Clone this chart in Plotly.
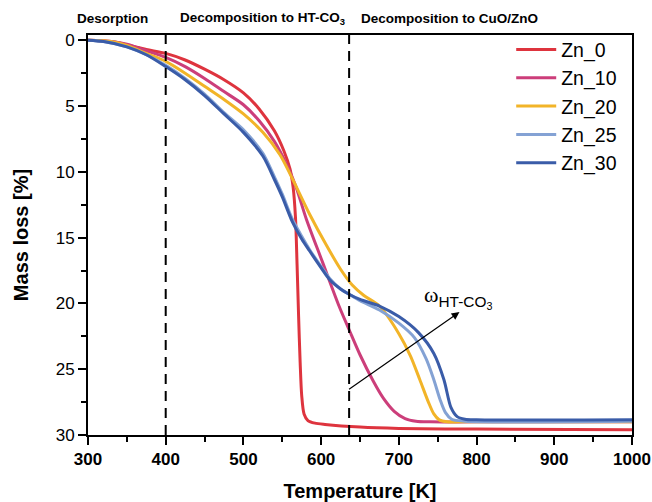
import plotly.graph_objects as go

# ---- data ----
zn0_T = [300, 330, 350, 375, 400, 425, 450, 475, 500, 520, 540, 552, 560, 564, 567, 569, 571, 573, 575, 578, 583, 592, 605, 650, 700, 800, 1000]
zn0_m = [0.0, 0.1, 0.35, 0.7, 1.0, 1.5, 2.2, 3.0, 4.0, 5.2, 6.9, 8.4, 9.8, 11.2, 13.5, 17.0, 21.0, 24.5, 27.0, 28.4, 28.9, 29.1, 29.2, 29.4, 29.5, 29.55, 29.6]

zn10_T = [300, 330, 350, 375, 400, 425, 450, 475, 500, 520, 540, 556, 568, 581, 602, 623, 636, 650, 667, 680, 694, 708, 722, 740, 800, 1000]
zn10_m = [0.0, 0.1, 0.3, 0.8, 1.3, 2.0, 2.9, 3.9, 4.9, 6.1, 7.7, 9.5, 11.2, 13.6, 16.9, 20.2, 22.0, 23.9, 25.9, 27.2, 28.2, 28.75, 28.95, 29.0, 29.0, 29.0]

zn20_T = [300, 330, 350, 375, 400, 425, 450, 475, 500, 525, 547, 562, 585, 607, 625, 640, 655, 675, 700, 715, 727, 738, 745, 752, 762, 780, 1000]
zn20_m = [0.0, 0.1, 0.4, 1.0, 1.6, 2.5, 3.5, 4.5, 5.6, 7.0, 8.7, 10.4, 13.2, 15.6, 17.4, 18.6, 19.4, 20.2, 22.3, 24.0, 25.8, 27.5, 28.4, 28.85, 29.0, 29.0, 29.0]

zn25_T = [300, 320, 350, 375, 400, 425, 450, 475, 500, 525, 540, 550, 563, 575, 585, 600, 611, 625, 636, 650, 675, 700, 720, 735, 745, 753, 760, 768, 785, 1000]
zn25_m = [0.0, 0.1, 0.5, 1.1, 1.9, 2.9, 4.1, 5.5, 6.8, 8.6, 10.4, 11.7, 13.6, 14.9, 15.9, 17.2, 18.1, 18.9, 19.3, 19.8, 20.5, 21.5, 22.6, 24.2, 25.8, 27.3, 28.3, 28.8, 28.95, 28.95]

zn30_T = [300, 320, 350, 375, 400, 425, 450, 475, 500, 525, 540, 550, 563, 575, 585, 600, 611, 625, 636, 650, 675, 700, 725, 745, 758, 767, 775, 785, 800, 1000]
zn30_m = [0.0, 0.1, 0.5, 1.1, 2.0, 3.0, 4.2, 5.6, 7.0, 8.8, 10.6, 11.9, 13.8, 15.1, 16.0, 17.3, 18.2, 18.9, 19.3, 19.7, 20.2, 21.0, 22.2, 23.8, 25.8, 27.9, 28.6, 28.8, 28.85, 28.85]

series = [
    ("Zn_0", zn0_T, zn0_m, "rgb(222,52,62)"),
    ("Zn_10", zn10_T, zn10_m, "rgb(204,62,122)"),
    ("Zn_20", zn20_T, zn20_m, "rgb(242,180,40)"),
    ("Zn_25", zn25_T, zn25_m, "rgb(132,162,212)"),
    ("Zn_30", zn30_T, zn30_m, "rgb(58,92,168)"),
]

region_labels = ["Desorption", "Decomposition to HT-CO<sub>3</sub>", "Decomposition to CuO/ZnO"]
region_label_x = [332, 524, 765]
boundaries = [400, 636]

fig = go.Figure()
for name, T, m, col in series:
    fig.add_trace(go.Scatter(x=T, y=m, mode="lines", name=name,
                             line=dict(color=col, width=3, shape="spline", smoothing=0.8)))

for b in boundaries:
    fig.add_shape(type="line", xref="x", yref="paper", x0=b, x1=b, y0=0, y1=1,
                  line=dict(color="black", width=2, dash="10px,7px"))

for txt, xx in zip(region_labels, region_label_x):
    fig.add_annotation(x=xx, y=1.0425, xref="x", yref="paper", text="<b>" + txt + "</b>", showarrow=False,
                       font=dict(family="Liberation Sans", size=13.5, color="black"),
                       xanchor="center", yanchor="middle")

fig.add_annotation(x=778, y=20.66, ax=634, ay=26.6, xref="x", yref="y", axref="x", ayref="y",
                   text="", showarrow=True, arrowhead=2, arrowsize=1.3, arrowwidth=1.2, arrowcolor="black")
fig.add_annotation(x=776, y=19.5, xref="x", yref="y",
                   text='<span style="font-family:Liberation Serif">ω</span><sub>HT-CO<sub>3</sub></sub>',
                   showarrow=False, font=dict(family="Liberation Sans", size=22, color="black"),
                   xanchor="center", yanchor="middle")

axis_common = dict(showline=True, linecolor="black", linewidth=2, mirror=True, ticks="outside",
                   ticklen=8, tickwidth=2, tickcolor="black", showgrid=False, zeroline=False,
                   automargin=False,
                   tickfont=dict(family="Liberation Sans", size=17, color="black"))

fig.update_xaxes(range=[300, 1000], dtick=100, tick0=300,
                 minor=dict(dtick=50, ticks="outside", ticklen=5, tickwidth=1.5, tickcolor="black"),
                 title=dict(text="<b>Temperature [K]</b>", font=dict(family="Liberation Sans", size=20, color="black"), standoff=20),
                 tickprefix="<b>", ticksuffix="</b>", **axis_common)
fig.update_yaxes(range=[30, -0.4], tickvals=[0, 5, 10, 15, 20, 25, 30],
                 minor=dict(tickvals=[2.5, 7.5, 12.5, 17.5, 22.5, 27.5], ticks="outside", ticklen=5, tickwidth=1.5, tickcolor="black"),
                 title=dict(text="<b>Mass loss [%]</b>", font=dict(family="Liberation Sans", size=20, color="black"), standoff=22),
                 tickprefix="<b>", ticksuffix="</b>", **axis_common)

fig.update_layout(width=652, height=502, margin=dict(l=88, r=20, t=35, b=67),
                  plot_bgcolor="white", paper_bgcolor="white",
                  legend=dict(x=0.982, y=1.012, xanchor="right", yanchor="top", bgcolor="rgba(0,0,0,0)",
                              font=dict(family="Liberation Sans", size=19.5, color="black"),
                              tracegroupgap=0, itemwidth=40),
                  font=dict(family="Liberation Sans"))

fig.write_html("out.html")
